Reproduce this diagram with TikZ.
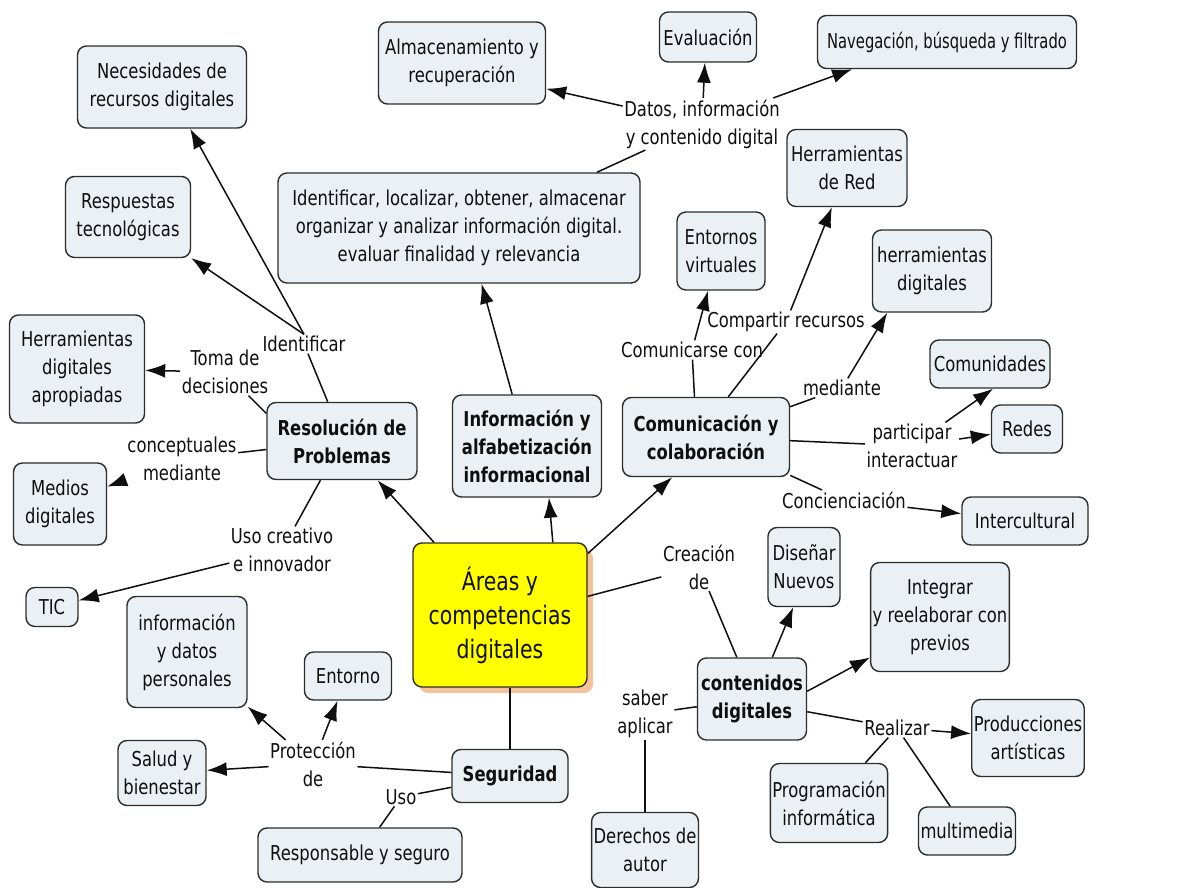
\documentclass[tikz,border=0pt]{standalone}
\usepackage{fontspec}
\setmainfont{DejaVu Sans}[FakeStretch=0.8]
\usetikzlibrary{arrows.meta,shadows}

\definecolor{boxfill}{RGB}{234,240,244}
\definecolor{boxline}{RGB}{45,45,45}
\definecolor{ink}{RGB}{15,15,15}
\definecolor{centerfill}{RGB}{255,255,0}
\definecolor{centershadow}{RGB}{245,195,155}

\tikzset{
  base/.style={align=center, text=ink, font=\fontsize{20.5}{28}\selectfont},
  box/.style={base, draw=boxline, fill=boxfill, line width=1.4pt, rounded corners=9pt, inner sep=2pt},
  topic/.style={box, font=\bfseries\fontsize{20.5}{28}\selectfont},
  mainbox/.style={box, fill=centerfill, font=\fontsize{25.5}{34}\selectfont,
    drop shadow={fill=centershadow, opacity=1, shadow xshift=6pt, shadow yshift=-6pt}},
  phrase/.style={base, inner sep=1.5pt},
  sz/.style 2 args={minimum width=#1pt, minimum height=#2pt},
  ln/.style={draw=ink, line width=1.5pt},
  arr/.style={ln, -{Latex[length=20pt,width=14pt]}},
}

\begin{document}
\begin{tikzpicture}[x=1pt,y=-1pt]
\fill[white] (0,0) rectangle (1184,888);
\useasboundingbox (0,0) rectangle (1184,888);

% central concept
\node[mainbox, sz={174}{144}] (cen) at (500,615) {Áreas y\\competencias\\digitales};

% main areas
\node[topic, sz={150}{77}] (res) at (342,441) {Resolución de\\Problemas};
\node[topic, sz={149}{102}] (info) at (527,446) {Información y\\alfabetización\\informacional};
\node[topic, sz={167}{79}] (com) at (706,437) {Comunicación y\\colaboración};
\node[topic, sz={116}{53}] (seg) at (510,776) {Seguridad};
\node[topic, sz={109}{82}] (cont) at (752,699) {contenidos\\digitales};

% problem solving branch
\node[box, sz={169}{82}] (nec) at (162,87) {Necesidades de\\recursos digitales};
\node[box, sz={125}{81}] (resp) at (128,217) {Respuestas\\tecnológicas};
\node[box, sz={135}{108}] (herap) at (77,369) {Herramientas\\digitales\\apropiadas};
\node[box, sz={93}{82}] (medios) at (60,504) {Medios\\digitales};
\node[box, sz={52}{39}] (tic) at (52,607) {TIC};
\node[phrase] (identlab) at (304,344) {Identificar};
\node[phrase] (toma) at (225,372) {Toma de\\decisiones};
\node[phrase] (concep) at (182,459) {conceptuales\\mediante};
\node[phrase] (usoc) at (282,550) {Uso creativo\\e innovador};

% information branch
\node[box, sz={362}{110}] (ident) at (459,228) {Identificar, localizar, obtener, almacenar\\organizar y analizar información digital.\\evaluar finalidad y relevancia};
\node[phrase] (datos) at (702,124) {Datos, información\\y contenido digital};
\node[box, sz={167}{82}] (alm) at (462,63) {Almacenamiento y\\recuperación};
\node[box, sz={97}{50}] (eva) at (708,37) {Evaluación};
\node[box, sz={259}{53}] (nav) at (947,42) {\scalebox{0.9}[1]{Navegación, búsqueda y filtrado}};

% communication branch
\node[box, sz={88}{78}] (entv) at (721,251) {Entornos\\virtuales};
\node[box, sz={120}{77}] (hred) at (847,168) {Herramientas\\de Red};
\node[box, sz={119}{82}] (hdig) at (932,271) {herramientas\\digitales};
\node[box, sz={120}{48}] (comun) at (990,364) {Comunidades};
\node[box, sz={71}{48}] (redes) at (1027,429) {Redes};
\node[box, sz={126}{48}] (inter) at (1025,521) {Intercultural};
\node[phrase] (comu) at (692,350) {Comunicarse con};
\node[phrase] (comp) at (786,322) {Compartir recursos};
\node[phrase] (med) at (842,388) {mediante};
\node[phrase] (part) at (912,446) {participar\\interactuar};
\node[phrase] (conc) at (844,500) {Concienciación};

% content creation branch
\node[phrase] (crea) at (699,567) {Creación\\de};
\node[box, sz={72}{79}] (dis) at (804,567) {Diseñar\\Nuevos};
\node[box, sz={134}{109}] (integ) at (940,617) {Integrar\\y reelaborar con\\previos};
\node[phrase] (saber) at (645,714) {saber\\aplicar};
\node[box, sz={105}{75}] (der) at (645,850) {Derechos de\\autor};
\node[phrase] (real) at (897,728) {Realizar};
\node[box, sz={109}{77}] (prod) at (1028,738) {Producciones\\artísticas};
\node[box, sz={113}{79}] (prog) at (829,803) {Programación\\informática};
\node[box, sz={95}{48}] (multi) at (967,831) {multimedia};

% safety branch
\node[phrase] (prot) at (313,764) {Protección\\de};
\node[box, sz={120}{111}] (infdat) at (187,652) {información\\y datos\\personales};
\node[box, sz={87}{48}] (entorno) at (348,676) {Entorno};
\node[box, sz={88}{65}] (salud) at (162,773) {Salud y\\bienestar};
\node[phrase] (uso) at (401,797) {Uso};
\node[box, sz={204}{54}] (respseg) at (360,855) {Responsable y seguro};

% connectors from the central concept
\draw[arr] (cen) -- (res);
\draw[arr] (cen.54) -- (info.-67);
\draw[arr] (cen.35) -- (com.-130);
\draw[ln] (cen.12) -- (crea);
\draw[ln] (crea) -- (cont.110);
\draw[ln] (seg.north) -- (seg.north |- cen.south);

% problem solving
\draw[ln] (res.110) -- (identlab);
\draw[arr] (identlab.north) -- (nec.-56);
\draw[arr] (identlab.north) -- (resp.-33);
\draw[ln] (res.160) -- (toma);
\draw[arr] (toma) -- (herap);
\draw[ln] (res) -- (concep);
\draw[arr] (concep) -- (medios);
\draw[ln] (res) -- (usoc);
\draw[arr] (usoc) -- (tic);

% information
\draw[arr] (info.106) -- (ident.-68);
\draw[ln] (ident.22) -- (datos);
\draw[arr] (datos) -- (alm.-17);
\draw[arr] (datos) -- (eva.-97);
\draw[arr] (datos) -- (nav.-164);

% communication
\draw[ln] (com.106) -- (comu);
\draw[arr] (comu) -- (entv.-108);
\draw[ln] (com.61) -- (comp);
\draw[arr] (comp) -- (hred.-111);
\draw[ln] (com) -- (med);
\draw[arr] (med) -- (hdig.-137);
\draw[ln] (com) -- (part);
\draw[arr] (part) -- (comun.-83);
\draw[arr] (part) -- (redes);
\draw[ln] (com) -- (conc);
\draw[arr] (conc) -- (inter);

% content creation
\draw[arr] (cont.64) -- (dis.-105);
\draw[arr] (cont.8) -- (integ.-150);
\draw[ln] (cont.-13) -- (real);
\draw[arr] (real) -- (prod);
\draw[ln] (real) -- (prog);
\draw[ln] (real) -- (multi);
\draw[ln] (cont) -- (saber);
\draw[ln] (saber) -- (der);

% safety
\draw[ln] (seg) -- (prot);
\draw[arr] (prot) -- (infdat.-42);
\draw[arr] (prot) -- (entorno.-113);
\draw[arr] (prot) -- (salud);
\draw[ln] (seg) -- (uso);
\draw[ln] (uso) -- (respseg);
\end{tikzpicture}
\end{document}
